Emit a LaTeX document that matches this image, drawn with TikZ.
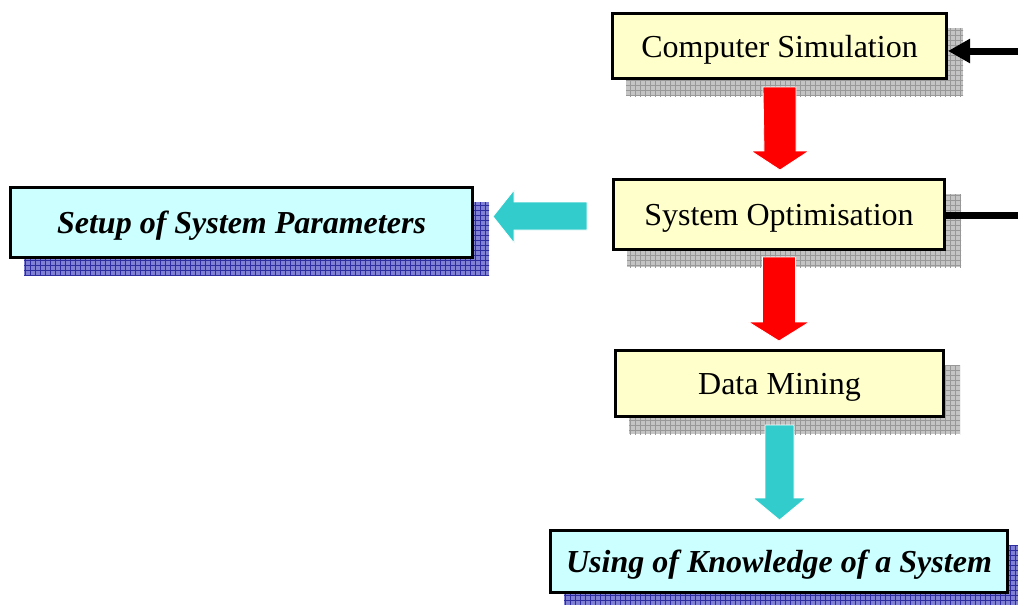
\documentclass[tikz,border=0pt]{standalone}
\usepackage{fontspec}
\setmainfont{Liberation Serif}
\usetikzlibrary{calc,arrows.meta,backgrounds}
\definecolor{boxyellow}{HTML}{FFFFCC}
\definecolor{boxcyan}{HTML}{CCFFFF}
\definecolor{arrowcyan}{HTML}{33CCCC}
\definecolor{shadegray}{HTML}{C4C4C4}
\definecolor{shadegrayline}{HTML}{989898}
\definecolor{shadeblue}{HTML}{8080D4}
\definecolor{shadeblueline}{HTML}{2E2EA0}
\newcommand\gridshade[3]{%
  \begin{scope}
    \clip ($(#1.south west)+(15,16)$) rectangle ($(#1.north east)+(15,16)$);
    \fill[#2] ($(#1.south west)+(15,16)$) rectangle ($(#1.north east)+(15,16)$);
    \draw[#3, line width=0.6pt, step=5pt] ($(#1.south west)+(10,25)$) grid ($(#1.north east)+(25,5)$);
  \end{scope}}
\tikzset{
  procbox/.style={draw=black, line width=3pt, fill=boxyellow, inner sep=0pt,
    text depth=0pt, font=\fontsize{32}{38}\selectfont},
  usebox/.style={draw=black, line width=3pt, fill=boxcyan, inner sep=0pt,
    text depth=0pt, font=\fontsize{32}{38}\selectfont\bfseries\itshape},
  blockarrow/.style={draw=white, line width=0.8pt},
}
\begin{document}
\begin{tikzpicture}[x=1pt,y=-1pt]
\useasboundingbox (0,0) rectangle (1018,605);

\node[procbox, minimum width=334, minimum height=65] (cs) at (779.5,46) {Computer Simulation};
\node[procbox, minimum width=331, minimum height=70] (so) at (779,214.5) {System Optimisation};
\node[procbox, minimum width=328, minimum height=66] (dm) at (779.5,383.5) {Data Mining};
\node[usebox, minimum width=462, minimum height=70] (setup) at (241.5,222.5) {Setup of System Parameters};
\node[usebox, minimum width=457, minimum height=62] (use) at (779,561.5) {Using of Knowledge of a System};

\begin{scope}[on background layer]
  \fill[white] (0,0) rectangle (1018,605);
  \gridshade{cs}{shadegray}{shadegrayline}
  \gridshade{so}{shadegray}{shadegrayline}
  \gridshade{dm}{shadegray}{shadegrayline}
  \gridshade{setup}{shadeblue}{shadeblueline}
  \gridshade{use}{shadeblue}{shadeblueline}
\end{scope}

% red block arrows
\filldraw[blockarrow, fill=red] ($(cs.south)+(-16.5,7)$) -- ++(33,0) -- ++(0,64) -- ++(13,0)
  -- ++(-29,19) -- ++(-29,-19) -- ++(13,0) -- cycle;
\filldraw[blockarrow, fill=red] ($(so.south)+(-16.5,6)$) -- ++(33,0) -- ++(0,65) -- ++(14,0)
  -- ++(-30.5,19) -- ++(-30.5,-19) -- ++(14,0) -- cycle;
% cyan block arrows
\filldraw[blockarrow, fill=arrowcyan] ($(dm.south)+(-14.5,7)$) -- ++(29,0) -- ++(0,73) -- ++(12,0)
  -- ++(-26.5,22) -- ++(-26.5,-22) -- ++(12,0) -- cycle;
\filldraw[blockarrow, fill=arrowcyan] ($(so.west)+(-25,-12.5)$) -- ++(0,28) -- ++(-73,0) -- ++(0,13)
  -- ++(-21,-26.5) -- ++(21,-26.5) -- ++(0,12) -- cycle;

% black inputs at the right
\coordinate (inR) at (1018,51);
\coordinate (outR) at (1018,215.5);
\draw[line width=7pt, -{Triangle[length=22pt,width=23pt]}] (inR) -- (inR -| cs.east);
\draw[line width=7pt] (outR -| so.east) -- (outR);
\end{tikzpicture}
\end{document}
